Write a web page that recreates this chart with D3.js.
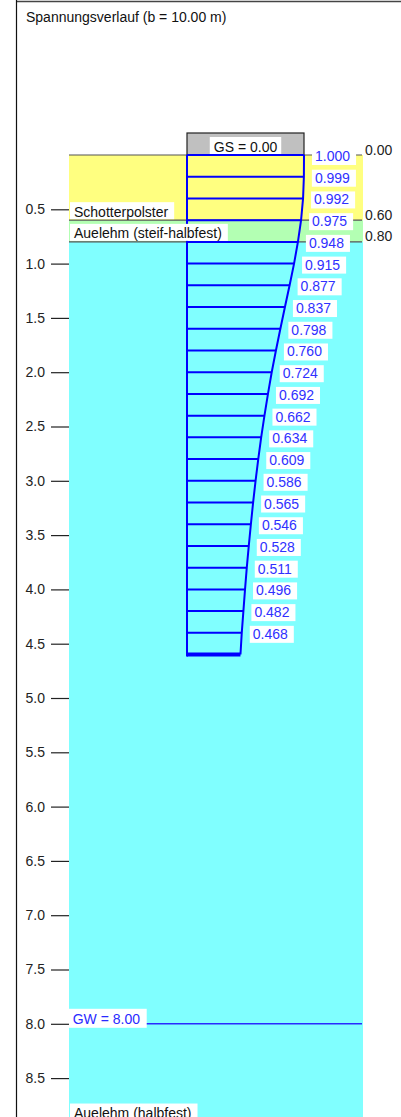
<!DOCTYPE html>
<html>
<head>
<meta charset="utf-8">
<script src="https://cdn.jsdelivr.net/npm/d3@7"></script>
<style>
  html, body { margin: 0; padding: 0; background: #fff; }
  svg { display: block; font-family: "Liberation Sans", Arial, Helvetica, sans-serif; }
</style>
</head>
<body>
<svg id="chart" width="401" height="1117"></svg>
<script>
// ---- data ----
const title = "Spannungsverlauf (b = 10.00 m)";
const foundationLabel = "GS = 0.00";
const foundationWidth = 10.0;          // b in m
const depthTickValues = [0.5, 1.0, 1.5, 2.0, 2.5, 3.0, 3.5, 4.0, 4.5, 5.0, 5.5, 6.0, 6.5, 7.0, 7.5, 8.0, 8.5];
const layerNames   = ["Schotterpolster", "Auelehm (steif-halbfest)", "Auelehm (halbfest)"];
const layerTops    = [0.0, 0.6, 0.8];
const layerBottoms = [0.6, 0.8, 8.9];
const layerColors  = ["#ffff80", "#b3ffb3", "#80ffff"];
const stressDepths = [0.0, 0.2, 0.4, 0.6, 0.8, 1.0, 1.2, 1.4, 1.6, 1.8, 2.0, 2.2, 2.4, 2.6, 2.8, 3.0, 3.2, 3.4, 3.6, 3.8, 4.0, 4.2, 4.4];
const stressValues = [1.000, 0.999, 0.992, 0.975, 0.948, 0.915, 0.877, 0.837, 0.798, 0.760, 0.724, 0.692, 0.662, 0.634, 0.609, 0.586, 0.565, 0.546, 0.528, 0.511, 0.496, 0.482, 0.468];
const bottomDepth = 4.6;
const bottomValue = 0.457;
const groundwaterDepth = 8.0;

// ---- scales ----
const y = d3.scaleLinear().domain([0, 9]).range([155, 155 + 9 * 108.6]);
const xs = d3.scaleLinear().domain([0, 1]).range([187, 304]);   // stress ratio -> x
const layerX0 = 69, layerX1 = 363;
const FS = 14;

const svg = d3.select("#chart");

// helper: text on a white box
function boxedText(parent, o) {
  const g = parent.append("g");
  const r = g.append("rect").attr("fill", "#fff");
  const t = g.append("text").attr("x", o.tx).attr("y", o.ty).attr("font-size", FS)
    .attr("fill", o.color || "#111").attr("text-anchor", o.anchor || "start").text(o.text);
  const w = t.node().getComputedTextLength();
  let x0 = o.anchor === "middle" ? o.tx - w / 2 - o.padL : o.tx - o.padL;
  r.attr("x", x0).attr("y", o.by).attr("width", w + o.padL + o.padR).attr("height", o.bh);
  return g;
}

// frame
svg.append("line").attr("x1", 16).attr("x2", 401).attr("y1", 1.5).attr("y2", 1.5)
  .attr("stroke", "#444").attr("stroke-width", 1.5);
svg.append("line").attr("x1", 16.5).attr("x2", 16.5).attr("y1", 0).attr("y2", 1117)
  .attr("stroke", "#111").attr("stroke-width", 1.2);

// title
svg.append("text").attr("x", 26).attr("y", 22).attr("font-size", FS).attr("fill", "#111").text(title);

// layers
const layers = layerNames.map((n, i) => ({ name: n, top: layerTops[i], bottom: layerBottoms[i], color: layerColors[i] }));
svg.append("g").selectAll("rect").data(layers).join("rect")
  .attr("x", layerX0).attr("width", layerX1 - layerX0)
  .attr("y", d => y(d.top)).attr("height", d => y(d.bottom) - y(d.top))
  .attr("fill", d => d.color);

// layer boundary lines
svg.append("g").selectAll("line").data(layerTops).join("line")
  .attr("x1", layerX0).attr("x2", layerX1 - 1)
  .attr("y1", d => y(d)).attr("y2", d => y(d))
  .attr("stroke", "#555").attr("stroke-width", 1.2);

// right boundary labels
svg.append("g").selectAll("text").data(layerTops).join("text")
  .attr("x", 365).attr("y", d => y(d) - 0.5)
  .attr("font-size", FS).attr("fill", "#222")
  .text(d => d.toFixed(2));

// left axis
const axis = d3.axisLeft(y).tickValues(depthTickValues).tickFormat(d3.format(".1f"))
  .tickSizeInner(18).tickSizeOuter(0).tickPadding(6);
const ag = svg.append("g").attr("transform", `translate(${layerX0},0)`).call(axis);
ag.select(".domain").remove();
ag.selectAll(".tick line").attr("stroke", "#222").attr("stroke-width", 1.2);
ag.selectAll(".tick text").attr("font-size", FS).attr("fill", "#222")
  .attr("font-family", "Liberation Sans, Arial, sans-serif");

// groundwater
const gy = y(groundwaterDepth);
svg.append("line").attr("x1", layerX0).attr("x2", layerX1 - 1).attr("y1", gy).attr("y2", gy)
  .attr("stroke", "#2a2aff").attr("stroke-width", 1.6);
boxedText(svg, { text: "GW = " + groundwaterDepth.toFixed(2), tx: 72.7, ty: gy, by: gy - 15, bh: 19, padL: 3.7, padR: 6.7, color: "#2a2aff" });

// foundation
svg.append("rect").attr("x", xs(0)).attr("y", 133).attr("width", xs(1) - xs(0)).attr("height", y(0) - 133)
  .attr("fill", "#c0c0c0").attr("stroke", "#222").attr("stroke-width", 1.2);
boxedText(svg, { text: foundationLabel, tx: (xs(0) + xs(1)) / 2, ty: 151.5, anchor: "middle", by: 137, bh: 17, padL: 4, padR: 4 });

// stress diagram
const pts = stressDepths.map((d, i) => ({ d: d, v: stressValues[i] }));
const allPts = pts.concat([{ d: bottomDepth, v: bottomValue }]);
const dg = svg.append("g");
dg.selectAll("line.h").data(pts).join("line").attr("class", "h")
  .attr("x1", xs(0)).attr("x2", d => xs(d.v))
  .attr("y1", d => y(d.d)).attr("y2", d => y(d.d))
  .attr("stroke", "#0000ff").attr("stroke-width", 2);
dg.append("line").attr("x1", xs(0)).attr("x2", xs(bottomValue))
  .attr("y1", y(bottomDepth)).attr("y2", y(bottomDepth))
  .attr("stroke", "#0000ff").attr("stroke-width", 4);
dg.append("line").attr("x1", xs(0)).attr("x2", xs(0))
  .attr("y1", y(0)).attr("y2", y(bottomDepth) + 2)
  .attr("stroke", "#0000ff").attr("stroke-width", 2);
const curve = d3.line().x(d => xs(d.v)).y(d => y(d.d));
dg.append("path").attr("d", curve(allPts)).attr("fill", "none")
  .attr("stroke", "#0000ff").attr("stroke-width", 2);

// layer labels (at layer bottom), drawn above the diagram
const lg = svg.append("g");
layers.forEach(d => {
  const yb = y(d.bottom);
  boxedText(lg, { text: d.name, tx: 74, ty: yb - 3.5, by: yb - 18, bh: 17, padL: 4, padR: 6 });
});

// value labels
const vg = svg.append("g");
pts.forEach(p => {
  const lx = xs(p.v) + 8, ly = y(p.d);
  boxedText(vg, { text: p.v.toFixed(3), tx: lx + 3, ty: ly + 6, by: ly - 7, bh: 17, padL: 3, padR: 6, color: "#3030ff" });
});
</script>
</body>
</html>
